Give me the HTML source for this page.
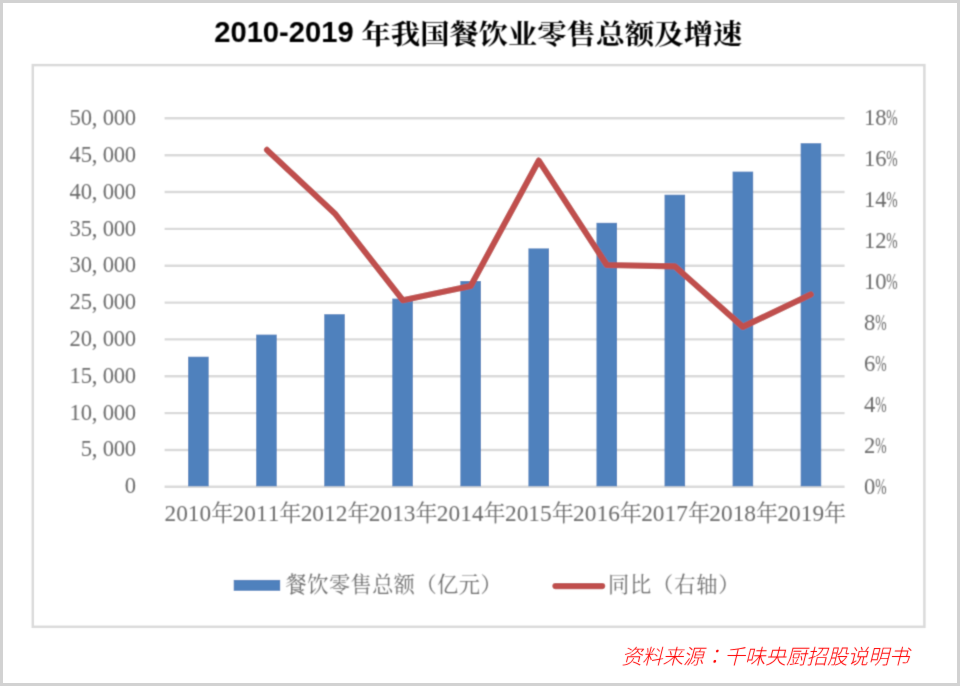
<!DOCTYPE html>
<html lang="zh-CN">
<head>
<meta charset="utf-8">
<title>2010-2019 年我国餐饮业零售总额及增速</title>
<style>
html,body{margin:0;padding:0;background:#fff;}
body{width:960px;height:686px;overflow:hidden;}
svg{display:block;}
.ax{font-family:"Liberation Serif","Noto Serif CJK SC",serif;font-size:22.6px;fill:#6c6c6c;}
.cj{font-family:"Noto Serif CJK SC","Liberation Serif",serif;font-weight:400;font-size:21.2px;fill:#6c6c6c;}
.tl{font-family:"Liberation Sans","Noto Serif CJK SC",sans-serif;font-weight:bold;font-size:29px;fill:#000;}
.tc{font-family:"Noto Serif CJK SC","Liberation Serif",serif;font-weight:700;font-size:27.6px;fill:#000;}
.jp{font-family:"Noto Sans CJK JP","Noto Sans CJK SC",sans-serif;}
.src{font-family:"Noto Sans CJK SC","Liberation Sans",sans-serif;font-weight:300;font-size:20.7px;fill:#f00;font-style:italic;}
</style>
</head>
<body>
<svg width="960" height="686" viewBox="0 0 960 686">
<defs>
<filter id="b1" x="-2%" y="-2%" width="104%" height="104%"><feConvolveMatrix order="3" kernelMatrix="0.037 0.19 0.037 0.19 1 0.19 0.037 0.19 0.037"/></filter>
<filter id="b3" x="-2%" y="-20%" width="104%" height="140%"><feConvolveMatrix order="3" kernelMatrix="0.002 0.044 0.002 0.044 1 0.044 0.002 0.044 0.002"/></filter>
<filter id="b2" x="-2%" y="-2%" width="104%" height="104%"><feConvolveMatrix order="3" kernelMatrix="0.13 0.36 0.13 0.36 1 0.36 0.13 0.36 0.13"/></filter>
</defs>
<rect x="0" y="0" width="960" height="686" fill="#fff"/>
<rect x="1.5" y="1.5" width="957" height="683" fill="none" stroke="#d2d2d2" stroke-width="3"/>

<g filter="url(#b2)">
<text><tspan class="tl" x="214.2" y="42.3" textLength="139.5" lengthAdjust="spacingAndGlyphs">2010-2019</tspan><tspan class="tl" x="354" y="42.3"> </tspan><tspan class="tc" x="361.6" y="43.7" textLength="380.6" lengthAdjust="spacingAndGlyphs">年我国餐饮业零售总额及增速</tspan></text>
</g>
<g filter="url(#b1)">
<rect x="32.8" y="65.1" width="891.6" height="561.7" fill="#fff" stroke="#dadada" stroke-width="2.5"/>
<line x1="164.6" y1="118.3" x2="844.6" y2="118.3" stroke="#dadada" stroke-width="2.4"/>
<line x1="164.6" y1="155.2" x2="844.6" y2="155.2" stroke="#dadada" stroke-width="2.4"/>
<line x1="164.6" y1="192.0" x2="844.6" y2="192.0" stroke="#dadada" stroke-width="2.4"/>
<line x1="164.6" y1="228.9" x2="844.6" y2="228.9" stroke="#dadada" stroke-width="2.4"/>
<line x1="164.6" y1="265.7" x2="844.6" y2="265.7" stroke="#dadada" stroke-width="2.4"/>
<line x1="164.6" y1="302.6" x2="844.6" y2="302.6" stroke="#dadada" stroke-width="2.4"/>
<line x1="164.6" y1="339.4" x2="844.6" y2="339.4" stroke="#dadada" stroke-width="2.4"/>
<line x1="164.6" y1="376.3" x2="844.6" y2="376.3" stroke="#dadada" stroke-width="2.4"/>
<line x1="164.6" y1="413.1" x2="844.6" y2="413.1" stroke="#dadada" stroke-width="2.4"/>
<line x1="164.6" y1="450.0" x2="844.6" y2="450.0" stroke="#dadada" stroke-width="2.4"/>
<line x1="164.6" y1="486.8" x2="844.6" y2="486.8" stroke="#dadada" stroke-width="2.4"/>
<rect x="188.10" y="356.7" width="20.6" height="129.6" fill="#4f81bd"/>
<rect x="256.16" y="334.6" width="20.6" height="151.7" fill="#4f81bd"/>
<rect x="324.22" y="314.2" width="20.6" height="172.1" fill="#4f81bd"/>
<rect x="392.28" y="298.6" width="20.6" height="187.7" fill="#4f81bd"/>
<rect x="460.34" y="281.0" width="20.6" height="205.3" fill="#4f81bd"/>
<rect x="528.40" y="248.4" width="20.6" height="237.9" fill="#4f81bd"/>
<rect x="596.46" y="222.8" width="20.6" height="263.5" fill="#4f81bd"/>
<rect x="664.52" y="194.7" width="20.6" height="291.6" fill="#4f81bd"/>
<rect x="732.58" y="171.6" width="20.6" height="314.7" fill="#4f81bd"/>
<rect x="800.64" y="143.2" width="20.6" height="343.1" fill="#4f81bd"/>
<polyline points="267.0,149.9 334.8,213.4 402.8,300.2 470.7,286.0 538.8,160.6 606.8,265.0 674.8,266.3 742.8,326.9 810.7,294.5" fill="none" stroke="#c0504d" stroke-width="6.2" stroke-linecap="round" stroke-linejoin="round"/>
<rect x="233.7" y="579.9" width="46.5" height="10.9" fill="#4f81bd"/>
<line x1="555.4" y1="586.1" x2="602.2" y2="586.1" stroke="#c0504d" stroke-width="6.2" stroke-linecap="round"/>
</g>
<g filter="url(#b2)">
<text class="ax" y="125.2" text-anchor="middle"><tspan x="75.2">5</tspan><tspan x="86.3">0</tspan><tspan x="94.6">,</tspan><tspan x="108.4">0</tspan><tspan x="119.4">0</tspan><tspan x="130.5">0</tspan></text>
<text class="ax" y="162.0" text-anchor="middle"><tspan x="75.2">4</tspan><tspan x="86.3">5</tspan><tspan x="94.6">,</tspan><tspan x="108.4">0</tspan><tspan x="119.4">0</tspan><tspan x="130.5">0</tspan></text>
<text class="ax" y="198.8" text-anchor="middle"><tspan x="75.2">4</tspan><tspan x="86.3">0</tspan><tspan x="94.6">,</tspan><tspan x="108.4">0</tspan><tspan x="119.4">0</tspan><tspan x="130.5">0</tspan></text>
<text class="ax" y="235.6" text-anchor="middle"><tspan x="75.2">3</tspan><tspan x="86.3">5</tspan><tspan x="94.6">,</tspan><tspan x="108.4">0</tspan><tspan x="119.4">0</tspan><tspan x="130.5">0</tspan></text>
<text class="ax" y="272.4" text-anchor="middle"><tspan x="75.2">3</tspan><tspan x="86.3">0</tspan><tspan x="94.6">,</tspan><tspan x="108.4">0</tspan><tspan x="119.4">0</tspan><tspan x="130.5">0</tspan></text>
<text class="ax" y="309.2" text-anchor="middle"><tspan x="75.2">2</tspan><tspan x="86.3">5</tspan><tspan x="94.6">,</tspan><tspan x="108.4">0</tspan><tspan x="119.4">0</tspan><tspan x="130.5">0</tspan></text>
<text class="ax" y="346.0" text-anchor="middle"><tspan x="75.2">2</tspan><tspan x="86.3">0</tspan><tspan x="94.6">,</tspan><tspan x="108.4">0</tspan><tspan x="119.4">0</tspan><tspan x="130.5">0</tspan></text>
<text class="ax" y="382.7" text-anchor="middle"><tspan x="75.2">1</tspan><tspan x="86.3">5</tspan><tspan x="94.6">,</tspan><tspan x="108.4">0</tspan><tspan x="119.4">0</tspan><tspan x="130.5">0</tspan></text>
<text class="ax" y="419.5" text-anchor="middle"><tspan x="75.2">1</tspan><tspan x="86.3">0</tspan><tspan x="94.6">,</tspan><tspan x="108.4">0</tspan><tspan x="119.4">0</tspan><tspan x="130.5">0</tspan></text>
<text class="ax" y="456.3" text-anchor="middle"><tspan x="86.3">5</tspan><tspan x="94.6">,</tspan><tspan x="108.4">0</tspan><tspan x="119.4">0</tspan><tspan x="130.5">0</tspan></text>
<text class="ax" y="493.1" text-anchor="middle"><tspan x="130.5">0</tspan></text>
<text class="ax" y="125.2" text-anchor="middle"><tspan x="869.7">1</tspan><tspan x="880.8">8</tspan><tspan x="891.8" textLength="11.3" lengthAdjust="spacingAndGlyphs">%</tspan></text>
<text class="ax" y="166.2" text-anchor="middle"><tspan x="869.7">1</tspan><tspan x="880.8">6</tspan><tspan x="891.8" textLength="11.3" lengthAdjust="spacingAndGlyphs">%</tspan></text>
<text class="ax" y="207.1" text-anchor="middle"><tspan x="869.7">1</tspan><tspan x="880.8">4</tspan><tspan x="891.8" textLength="11.3" lengthAdjust="spacingAndGlyphs">%</tspan></text>
<text class="ax" y="248.1" text-anchor="middle"><tspan x="869.7">1</tspan><tspan x="880.8">2</tspan><tspan x="891.8" textLength="11.3" lengthAdjust="spacingAndGlyphs">%</tspan></text>
<text class="ax" y="289.0" text-anchor="middle"><tspan x="869.7">1</tspan><tspan x="880.8">0</tspan><tspan x="891.8" textLength="11.3" lengthAdjust="spacingAndGlyphs">%</tspan></text>
<text class="ax" y="329.9" text-anchor="middle"><tspan x="869.7">8</tspan><tspan x="880.8" textLength="11.3" lengthAdjust="spacingAndGlyphs">%</tspan></text>
<text class="ax" y="370.9" text-anchor="middle"><tspan x="869.7">6</tspan><tspan x="880.8" textLength="11.3" lengthAdjust="spacingAndGlyphs">%</tspan></text>
<text class="ax" y="411.8" text-anchor="middle"><tspan x="869.7">4</tspan><tspan x="880.8" textLength="11.3" lengthAdjust="spacingAndGlyphs">%</tspan></text>
<text class="ax" y="452.8" text-anchor="middle"><tspan x="869.7">2</tspan><tspan x="880.8" textLength="11.3" lengthAdjust="spacingAndGlyphs">%</tspan></text>
<text class="ax" y="493.7" text-anchor="middle"><tspan x="869.7">0</tspan><tspan x="880.8" textLength="11.3" lengthAdjust="spacingAndGlyphs">%</tspan></text>
<text class="ax" style="font-size:23.3px" y="520.8" text-anchor="middle"><tspan x="170.3">2</tspan><tspan x="182.0">0</tspan><tspan x="193.7">1</tspan><tspan x="205.4">0</tspan><tspan class="cj" style="font-size:22.2px" x="222.3" dy="0.1">年</tspan></text>
<text class="ax" style="font-size:23.3px" y="520.8" text-anchor="middle"><tspan x="238.4">2</tspan><tspan x="250.1">0</tspan><tspan x="261.8">1</tspan><tspan x="273.5">1</tspan><tspan class="cj" style="font-size:22.2px" x="290.4" dy="0.1">年</tspan></text>
<text class="ax" style="font-size:23.3px" y="520.8" text-anchor="middle"><tspan x="306.5">2</tspan><tspan x="318.2">0</tspan><tspan x="329.9">1</tspan><tspan x="341.6">2</tspan><tspan class="cj" style="font-size:22.2px" x="358.5" dy="0.1">年</tspan></text>
<text class="ax" style="font-size:23.3px" y="520.8" text-anchor="middle"><tspan x="374.6">2</tspan><tspan x="386.3">0</tspan><tspan x="398.0">1</tspan><tspan x="409.7">3</tspan><tspan class="cj" style="font-size:22.2px" x="426.6" dy="0.1">年</tspan></text>
<text class="ax" style="font-size:23.3px" y="520.8" text-anchor="middle"><tspan x="442.7">2</tspan><tspan x="454.4">0</tspan><tspan x="466.1">1</tspan><tspan x="477.8">4</tspan><tspan class="cj" style="font-size:22.2px" x="494.7" dy="0.1">年</tspan></text>
<text class="ax" style="font-size:23.3px" y="520.8" text-anchor="middle"><tspan x="510.8">2</tspan><tspan x="522.5">0</tspan><tspan x="534.2">1</tspan><tspan x="545.9">5</tspan><tspan class="cj" style="font-size:22.2px" x="562.8" dy="0.1">年</tspan></text>
<text class="ax" style="font-size:23.3px" y="520.8" text-anchor="middle"><tspan x="578.9">2</tspan><tspan x="590.6">0</tspan><tspan x="602.3">1</tspan><tspan x="614.0">6</tspan><tspan class="cj" style="font-size:22.2px" x="630.9" dy="0.1">年</tspan></text>
<text class="ax" style="font-size:23.3px" y="520.8" text-anchor="middle"><tspan x="647.0">2</tspan><tspan x="658.7">0</tspan><tspan x="670.4">1</tspan><tspan x="682.1">7</tspan><tspan class="cj" style="font-size:22.2px" x="699.0" dy="0.1">年</tspan></text>
<text class="ax" style="font-size:23.3px" y="520.8" text-anchor="middle"><tspan x="715.1">2</tspan><tspan x="726.8">0</tspan><tspan x="738.5">1</tspan><tspan x="750.2">8</tspan><tspan class="cj" style="font-size:22.2px" x="767.1" dy="0.1">年</tspan></text>
<text class="ax" style="font-size:23.3px" y="520.8" text-anchor="middle"><tspan x="783.2">2</tspan><tspan x="794.9">0</tspan><tspan x="806.6">1</tspan><tspan x="818.3">9</tspan><tspan class="cj" style="font-size:22.2px" x="835.2" dy="0.1">年</tspan></text>
<text class="cj" x="285.6" y="592.2" textLength="216" lengthAdjust="spacing">餐饮零售总额（亿元）</text>
<text class="cj" x="608" y="592.2" textLength="131.5" lengthAdjust="spacing">同比（右轴）</text>
</g>
<g filter="url(#b3)"><text class="src" x="621.4" y="663.5" textLength="288" lengthAdjust="spacing">资料来源<tspan class="jp" lang="ja" xml:lang="ja">：</tspan>千味央厨招股说明书</text></g>
</svg>
</body>
</html>
